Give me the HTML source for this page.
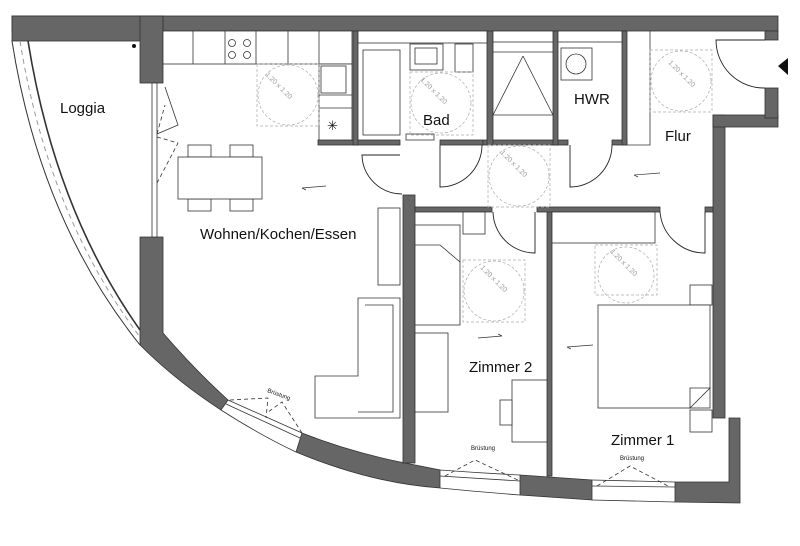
<!DOCTYPE html>
<html><head><meta charset="utf-8"><style>
html,body{margin:0;padding:0;background:#fff;width:800px;height:546px;overflow:hidden}
svg{display:block}
text{font-family:"Liberation Sans",sans-serif;fill:#111}
</style></head><body>
<svg width="800" height="546" viewBox="0 0 800 546" xmlns="http://www.w3.org/2000/svg">
<g fill="#666" stroke="#333" stroke-width="0.8">
 <rect x="12" y="16" width="766" height="15"/>
 <rect x="12" y="16" width="151" height="25"/>
 <rect x="140" y="16" width="23" height="67"/>
 <path d="M140 237 H163 V333 Q195 370 228 400 L221 410 Q175 380 140 345 Z"/>
 <path d="M302 433 Q350 452 405 463 L440 470 L440 488 Q370 483 296 452 Z"/>
 <path d="M520 475 L592 480 L592 500 L520 495 Z"/>
 <path d="M675 482 L729 482 L729 418 L740 418 L740 503 L675 502 Z"/>
 <rect x="713" y="115" width="12" height="303"/>
 <rect x="713" y="115" width="65" height="12"/>
 <rect x="765" y="31" width="13" height="9"/>
 <rect x="765" y="88" width="13" height="30"/>
 <rect x="403" y="195" width="12" height="268"/>
 <rect x="547" y="211" width="5" height="265"/>
 <rect x="415" y="207" width="77" height="5"/>
 <rect x="537" y="207" width="123" height="5"/>
 <rect x="705" y="207" width="8" height="5"/>
 <rect x="318" y="140" width="82" height="5"/>
 <rect x="440" y="140" width="43" height="5"/>
 <rect x="483" y="140" width="85" height="5"/>
 <rect x="612" y="140" width="15" height="5"/>
 <rect x="353" y="31" width="5" height="114"/>
 <rect x="487" y="31" width="6" height="114"/>
 <rect x="553" y="31" width="5" height="114"/>
 <rect x="622" y="31" width="5" height="114"/>
</g>
<!-- windows on curve -->
<g fill="none" stroke="#333" stroke-width="0.8">
 <path d="M221 410 Q260 435 296 452"/>
 <path d="M228 400 L302 433 M226 404 L300 438"/>
 <path d="M440 470 Q480 473 520 475 M440 488 Q480 492 520 495"/>
 <path d="M592 480 L675 482 M592 500 L675 502"/>
 <path d="M440 476 L520 481 M592 486 L675 487"/>
 <path d="M230 400 L268 398 L266 418 M302 433 L282 402 L268 412" stroke-dasharray="4,3"/>
 <path d="M445 476 L475 460 L520 481 M597 486 L630 466 L670 487" stroke-dasharray="4,3"/>
</g>
<!-- loggia glass curve -->
<g fill="none">
 <path d="M12 41 Q40 220 140 345" stroke="#333" stroke-width="1"/>
 <path d="M20 41 Q48 215 140 337" stroke="#999" stroke-width="1" stroke-dasharray="5,4"/>
 <path d="M28 41 Q55 210 140 330" stroke="#333" stroke-width="1.6"/>
</g>
<circle cx="134" cy="46" r="2" fill="#111"/>
<!-- loggia door -->
<g fill="none" stroke="#333" stroke-width="0.8">
 <rect x="152" y="83" width="5" height="154" fill="#fff"/>
 <path d="M157 134 L178 125 L165 87" />
 <path d="M157 134 L165 105 M157 183 L178 143 L157 137" stroke-dasharray="4,3"/>
</g>
<!-- kitchen -->
<g fill="#fff" stroke="#333" stroke-width="0.8">
 <rect x="163" y="31" width="189" height="33"/>
 <path d="M193 31V64M225 31V64M256 31V64M288 31V64M319 31V64" fill="none"/>
 <rect x="319" y="64" width="33" height="76"/>
 <rect x="321" y="66" width="25" height="27"/>
 <path d="M319 95H352M319 108H352" fill="none"/>
 <circle cx="232" cy="43" r="3.5"/><circle cx="247" cy="43" r="3.5"/>
 <circle cx="232" cy="55" r="3.5"/><circle cx="247" cy="55" r="3.5"/>
</g>
<text x="327" y="130" font-size="13">✳</text>
<!-- bath -->
<g fill="#fff" stroke="#333" stroke-width="0.8">
 <rect x="358" y="31" width="129" height="12"/>
 <rect x="363" y="50" width="37" height="85"/>
 <rect x="410" y="44" width="33" height="26"/><rect x="415" y="48" width="22" height="16"/>
 <rect x="455" y="44" width="18" height="28"/>
 <rect x="406" y="134" width="28" height="6"/>
 <rect x="493" y="31" width="60" height="11"/>
 <path d="M493 52H553M523 56L493 115M523 56L553 115M493 115H553" fill="none"/>
 <rect x="558" y="31" width="64" height="11"/>
 <rect x="561" y="48" width="31" height="32"/><circle cx="576" cy="64" r="10"/>
 <path d="M650 31V145H627" fill="none"/>
</g>
<!-- turning circles -->
<g fill="none" stroke="#aaa" stroke-width="0.7" stroke-dasharray="3,2">
 <rect x="257" y="64" width="62" height="62"/><circle cx="288" cy="95" r="30"/>
 <rect x="410" y="72" width="63" height="63"/><circle cx="441" cy="103" r="30"/>
 <rect x="488" y="145" width="62" height="62"/><circle cx="519" cy="176" r="30"/>
 <rect x="650" y="50" width="62" height="62"/><circle cx="681" cy="81" r="30"/>
 <rect x="463" y="260" width="62" height="62"/><circle cx="494" cy="291" r="30"/>
 <rect x="595" y="245" width="62" height="50"/><circle cx="626" cy="275" r="28"/>
</g>
<g font-size="7">
 <text x="265" y="75" transform="rotate(45 265 75)" style="fill:#999">1.20 x 1.20</text>
 <text x="420" y="80" transform="rotate(45 420 80)" style="fill:#999">1.20 x 1.20</text>
 <text x="500" y="153" transform="rotate(45 500 153)" style="fill:#999">1.20 x 1.20</text>
 <text x="668" y="63" transform="rotate(45 668 63)" style="fill:#999">1.20 x 1.20</text>
 <text x="480" y="268" transform="rotate(45 480 268)" style="fill:#999">1.20 x 1.20</text>
 <text x="610" y="252" transform="rotate(45 610 252)" style="fill:#999">1.20 x 1.20</text>
</g>
<!-- doors -->
<g fill="none" stroke="#222" stroke-width="0.9">
 <path d="M400 155 L362 155 A40 40 0 0 0 402 194"/>
 <path d="M440 145 V187 A42 42 0 0 0 482 145"/>
 <path d="M570 145 V187 A42 42 0 0 0 612 145"/>
 <path d="M535 212 V253 A42 42 0 0 1 493 212"/>
 <path d="M660 212 A45 45 0 0 0 705 253 V212"/>
 <path d="M765 88 A48 48 0 0 1 716 40 H765"/>
</g>
<path d="M788 58 L778 66 L788 75 Z" fill="#111"/>
<!-- living furniture -->
<g fill="#fff" stroke="#333" stroke-width="0.8">
 <rect x="188" y="145" width="23" height="12"/><rect x="230" y="145" width="23" height="12"/>
 <rect x="188" y="199" width="23" height="12"/><rect x="230" y="199" width="23" height="12"/>
 <rect x="178" y="157" width="84" height="42"/>
 <rect x="378" y="208" width="22" height="77"/>
 <path d="M358 298 H400 V418 H315 V376 H358 Z"/>
 <path d="M365 305 H393 V412 H358" fill="none"/>
 <!-- Zimmer 2 -->
 <rect x="463" y="212" width="22" height="22"/>
 <rect x="415" y="225" width="45" height="100"/>
 <path d="M415 245 H440 L460 262" fill="none"/>
 <rect x="415" y="333" width="33" height="79"/>
 <rect x="512" y="380" width="35" height="62"/>
 <rect x="500" y="400" width="12" height="25"/>
 <!-- Zimmer 1 -->
 <rect x="552" y="212" width="103" height="31"/>
 <rect x="690" y="285" width="22" height="20"/>
 <rect x="690" y="410" width="22" height="22"/>
 <rect x="598" y="305" width="112" height="103"/>
 <path d="M690 408 L710 388 L690 388 Z"/>
</g>
<g stroke="#333" stroke-width="0.7" fill="none">
 <path d="M302 188 L326 186 M306 190 L302 188"/>
 <path d="M634 175 L660 173 M638 177 L634 175"/>
 <path d="M478 338 L502 336 M498 334 L502 336"/>
 <path d="M567 347 L593 345 M571 349 L567 347"/>
</g>
<!-- labels -->
<text x="60" y="113" font-size="15">Loggia</text>
<text x="200" y="239" font-size="15">Wohnen/Kochen/Essen</text>
<text x="423" y="125" font-size="15">Bad</text>
<text x="574" y="104" font-size="15">HWR</text>
<text x="665" y="141" font-size="15">Flur</text>
<text x="469" y="372" font-size="15">Zimmer 2</text>
<text x="611" y="445" font-size="15">Zimmer 1</text>
<text x="267" y="392" font-size="6" transform="rotate(20 267 392)">Brüstung</text>
<text x="471" y="450" font-size="6">Brüstung</text>
<text x="620" y="460" font-size="6">Brüstung</text>
</svg>
</body></html>
